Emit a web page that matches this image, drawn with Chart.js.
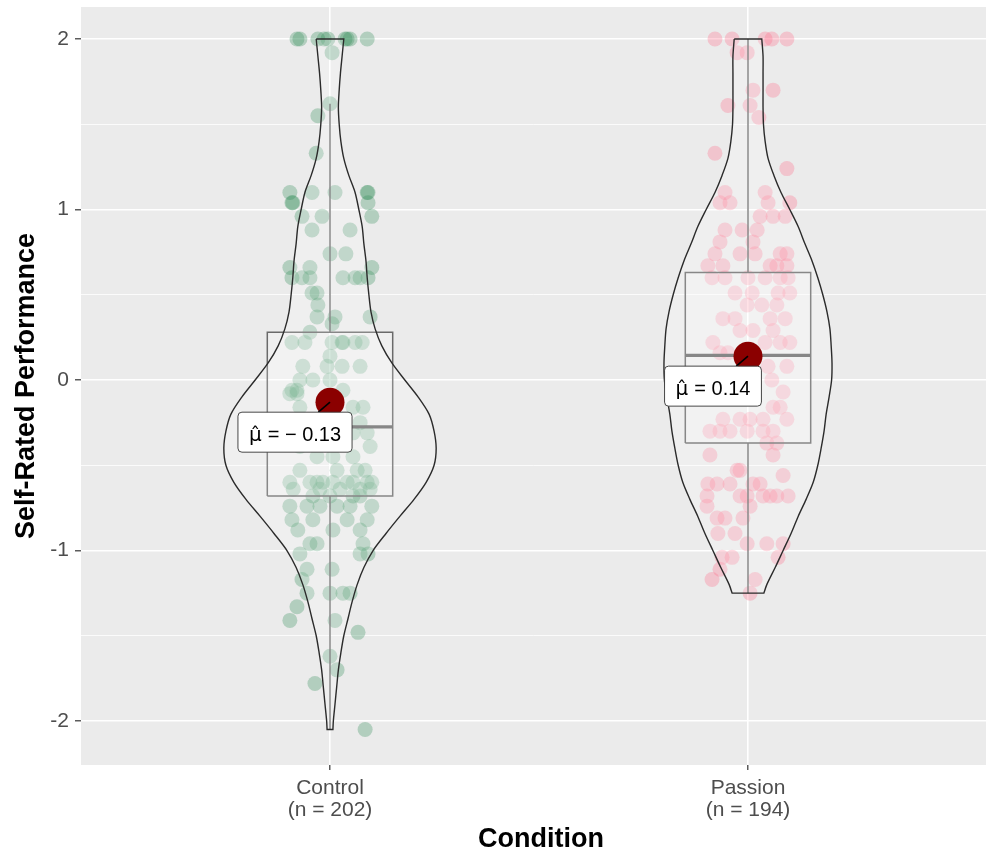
<!DOCTYPE html>
<html><head><meta charset="utf-8">
<script src="https://cdn.jsdelivr.net/npm/chart.js@4"></script>
<style>html,body{margin:0;padding:0;overflow:hidden;background:#ffffff}canvas{display:block}</style>
</head><body>
<canvas id="c" width="986" height="852"></canvas>
<script>
// ---------- data ----------
const categories = ['Control', 'Passion'];
const groupSizes = [202, 194];
const means = [-0.13, 0.14];
const meanValueText = ['= \u2212 0.13', '= 0.14'];
const q1 = [-0.68, -0.37];
const medians = [-0.275, 0.145];
const q3 = [0.28, 0.63];
const whiskerLow = [-2.05, -1.25];
const whiskerHigh = [1.62, 2.0];
const yTicks = [-2, -1, 0, 1, 2];
const yMinorTicks = [-1.5, -0.5, 0.5, 1.5];

const controlY = [
  2,2,2,2,2,2,2,2,2, 1.92, 1.62, 1.55, 1.33,
  1.1,1.1,1.1,1.1,1.1, 1.04,1.04,1.04, 0.96,0.96,0.96, 0.88,0.88, 0.74,0.74,
  0.66,0.66,0.66, 0.6,0.6,0.6,0.6,0.6,0.6,0.6, 0.51,0.51, 0.44, 0.37,0.37,0.37, 0.33, 0.28,
  0.22,0.22,0.22,0.22,0.22,0.22,0.22, 0.14, 0.08,0.08,0.08,0.08, 0,0,0,
  -0.06,-0.06,-0.06, -0.08,-0.08, -0.16,-0.16,-0.16, -0.25,-0.25, -0.31,-0.31, -0.39,-0.39,
  -0.45,-0.45,-0.45, -0.53,-0.53,-0.53,-0.53,
  -0.6,-0.6,-0.6,-0.6,-0.6,-0.6,-0.6,-0.6,-0.6, -0.64,-0.64,-0.64,-0.64,-0.64,
  -0.68,-0.68,-0.68,-0.68, -0.74,-0.74,-0.74,-0.74,-0.74,-0.74, -0.82,-0.82,-0.82,-0.82,
  -0.88,-0.88,-0.88, -0.96,-0.96,-0.96, -1.02,-1.02,-1.02, -1.11,-1.11, -1.17,
  -1.25,-1.25,-1.25,-1.25, -1.33, -1.41,-1.41, -1.48, -1.62, -1.7, -1.78, -2.05
];
const controlJitter = [
  -0.079,-0.072,-0.029,-0.014,-0.005,0.036,0.041,0.048,0.089, 0.005, 0.0, -0.029, -0.033,
  -0.096,-0.043,0.012,0.091,0.089, -0.091,-0.089,0.091, -0.067,-0.019,0.1, -0.043,0.048, 0.0,0.038,
  -0.096,-0.048,0.1, -0.091,-0.067,-0.048,0.031,0.06,0.072,0.091, -0.043,-0.031, -0.029, -0.031,0.012,0.096, 0.005, -0.048,
  -0.091,-0.06,0.005,0.029,0.031,0.06,0.077, 0.0, -0.065,-0.007,0.029,0.072, -0.072,-0.041,0.0,
  -0.091,-0.079,0.031, -0.096,-0.079, -0.072,0.055,0.079, 0.072,-0.07, 0.055,0.089, 0.096,-0.072,
  -0.031,0.007,0.055, -0.072,0.017,0.065,0.084,
  -0.096,-0.048,-0.031,-0.017,0.007,0.041,0.055,0.089,0.1, -0.088,-0.024,0.024,0.072,0.096,
  -0.041,0.0,0.055,0.072, -0.096,-0.055,-0.024,0.017,0.048,0.1, -0.091,-0.041,0.041,0.089,
  -0.077,0.007,0.072, -0.048,-0.031,0.079, -0.072,0.072,0.091, -0.055,0.005, -0.067,
  -0.055,0.0,0.031,0.048, -0.079, -0.096,0.012, 0.067, 0.0, 0.017, -0.036, 0.084
];

const passionY = [
  2,2,2,2,2, 1.92,1.92, 1.7,1.7, 1.61,1.61, 1.54, 1.33, 1.24, 1.1,1.1, 1.04,1.04,1.04,1.04,
  0.96,0.96,0.96, 0.88,0.88,0.88, 0.81,0.81, 0.74,0.74,0.74,0.74,0.74, 0.67,0.67,0.67,0.67,0.67,
  0.6,0.6,0.6,0.6,0.6,0.6, 0.51,0.51,0.51,0.51, 0.44,0.44,0.44, 0.36,0.36,0.36,0.36,
  0.29,0.29,0.29, 0.22,0.22,0.22,0.22, 0.16,0.16, 0.08,0.08, 0, -0.07, -0.16,-0.16,
  -0.23,-0.23,-0.23,-0.23,-0.23, -0.3,-0.3,-0.3,-0.3,-0.3,-0.3, -0.37,-0.37, -0.44,-0.44,
  -0.53,-0.53, -0.56, -0.61,-0.61,-0.61,-0.61,-0.61, -0.68,-0.68,-0.68,-0.68,-0.68,-0.68,-0.68,
  -0.74,-0.74, -0.81,-0.81,-0.81, -0.9,-0.9, -0.96,-0.96,-0.96, -1.04,-1.04,-1.04, -1.11,
  -1.17,-1.17, -1.25
];
const passionJitter = [
  -0.079,-0.038,0.041,0.057,0.093, -0.026,-0.002, 0.012,0.06, -0.048,0.005, 0.026, -0.079, 0.093, -0.055,0.041, -0.067,-0.043,0.048,0.1,
  0.029,0.06,0.089, -0.055,-0.014,0.022, -0.067,0.012, -0.079,-0.019,0.017,0.077,0.093, -0.096,-0.06,0.053,0.069,0.093,
  -0.086,-0.055,0.0,0.041,0.077,0.096, -0.031,0.01,0.072,0.1, -0.002,0.033,0.069, -0.06,-0.031,0.053,0.089,
  -0.019,0.012,0.06, -0.084,0.041,0.077,0.1, -0.067,-0.048, 0.048,0.093, 0.057, 0.084, 0.06,0.077,
  -0.06,-0.019,0.005,0.036,0.093, -0.091,-0.067,-0.043,-0.002,0.036,0.06, 0.045,0.069, -0.091,0.06,
  -0.026,-0.019, 0.084, -0.096,-0.074,-0.043,0.012,0.029, -0.098,-0.019,-0.002,0.036,0.053,0.069,0.096,
  -0.098,0.005, -0.074,-0.055,-0.012, -0.072,-0.031, -0.002,0.045,0.084, -0.062,-0.038,0.072, -0.067,
  -0.086,0.017, 0.005
];

const controlViolinY = [2.0,1.9,1.8,1.7,1.6,1.5,1.4,1.3,1.2,1.1,1.0,0.9,0.8,0.7,0.6,0.5,0.4,0.3,0.2,0.1,0.0,
  -0.1,-0.2,-0.3,-0.4,-0.5,-0.6,-0.7,-0.8,-0.9,-1.0,-1.1,-1.2,-1.3,-1.4,-1.5,-1.6,-1.7,-1.8,-1.9,-2.0,-2.05];
const controlViolinHalfWidth = [0.033,0.029,0.025,0.022,0.020,0.022,0.026,0.033,0.045,0.060,0.069,0.077,0.081,0.086,0.089,0.093,0.098,0.108,0.124,0.148,0.179,
  0.211,0.237,0.249,0.254,0.249,0.230,0.201,0.167,0.134,0.103,0.081,0.065,0.053,0.043,0.033,0.026,0.020,0.016,0.012,0.008,0.007];
const passionViolinY = [2.0,1.9,1.8,1.7,1.6,1.5,1.4,1.3,1.2,1.1,1.0,0.9,0.8,0.7,0.6,0.5,0.4,0.3,0.2,0.1,0.0,
  -0.1,-0.2,-0.3,-0.4,-0.5,-0.6,-0.7,-0.8,-0.9,-1.0,-1.1,-1.2,-1.25];
const passionViolinHalfWidth = [0.033,0.036,0.036,0.036,0.036,0.037,0.041,0.048,0.062,0.079,0.100,0.120,0.136,0.153,0.167,0.179,0.189,0.196,0.199,0.201,0.200,
  0.194,0.187,0.182,0.175,0.167,0.156,0.139,0.120,0.103,0.084,0.065,0.045,0.038];

// ---------- layout / style ----------
const FONT = '"Liberation Sans", Arial, sans-serif';
const boxHalf = 0.15;
const xMin = 0.4043, xMax = 2.5694, panelFullMax = 2.6053;
const yMin = -2.258, yMax = 2.1877;
const pointColors = ['rgba(46,139,87,0.30)', 'rgba(255,105,135,0.30)'];

function violinPolygon(center, ys, hws) {
  const n = ys.length, pts = [];
  pts.push({x: center - hws[0], y: ys[0]});
  pts.push({x: center - hws[0], y: ys[0]});
  for (let i = 0; i < n; i++) {
    pts.push({x: center + hws[i], y: ys[i]});
    if (i === 0 || i === n - 1) pts.push({x: center + hws[i], y: ys[i]});
  }
  for (let i = n - 1; i >= 0; i--) {
    pts.push({x: center - hws[i], y: ys[i]});
    if (i === n - 1) pts.push({x: center - hws[i], y: ys[i]});
  }
  return pts;
}

const datasets = [];
datasets.push({label: 'mean', data: means.map((m, i) => ({x: i + 1, y: m})),
  pointRadius: 14.5, backgroundColor: '#8B0000', borderWidth: 0, order: 0});

const violins = [[controlViolinY, controlViolinHalfWidth], [passionViolinY, passionViolinHalfWidth]];
const pts = [[controlY, controlJitter], [passionY, passionJitter]];
categories.forEach((c, i) => {
  const cx = i + 1;
  datasets.push({label: c + ' violin', data: violinPolygon(cx, violins[i][0], violins[i][1]),
    showLine: true, pointRadius: 0, tension: 0.3, fill: 'shape',
    backgroundColor: 'rgba(255,255,255,0.2)', borderColor: '#2b2b2b', borderWidth: 1.4, order: 10});
  datasets.push({label: c + ' box', data: [
      {x: cx - boxHalf, y: q1[i]}, {x: cx + boxHalf, y: q1[i]}, {x: cx + boxHalf, y: q3[i]},
      {x: cx - boxHalf, y: q3[i]}, {x: cx - boxHalf, y: q1[i]}],
    showLine: true, pointRadius: 0, tension: 0, fill: 'shape',
    backgroundColor: 'rgba(255,255,255,0.2)', borderColor: '#6a6a6a', borderWidth: 1.5, order: 20});
  datasets.push({label: c + ' median', data: [{x: cx - boxHalf, y: medians[i]}, {x: cx + boxHalf, y: medians[i]}],
    showLine: true, pointRadius: 0, borderColor: '#6a6a6a', borderWidth: 3.2, order: 19});
  datasets.push({label: c + ' upper whisker', data: [{x: cx, y: q3[i]}, {x: cx, y: whiskerHigh[i]}],
    showLine: true, pointRadius: 0, borderColor: '#6a6a6a', borderWidth: 1.5, order: 20});
  datasets.push({label: c + ' lower whisker', data: [{x: cx, y: q1[i]}, {x: cx, y: whiskerLow[i]}],
    showLine: true, pointRadius: 0, borderColor: '#6a6a6a', borderWidth: 1.5, order: 20});
  datasets.push({label: c + ' points', data: pts[i][0].map((v, k) => ({x: cx + pts[i][1][k], y: v})),
    pointRadius: 7.5, backgroundColor: pointColors[i], borderWidth: 0, order: 30});
});

const panelBg = {
  id: 'panelBg',
  beforeDraw(chart) {
    const {ctx, chartArea: a} = chart;
    ctx.save(); ctx.fillStyle = '#EBEBEB';
    ctx.fillRect(a.left, a.top, a.right - a.left, a.bottom - a.top);
    ctx.restore();
  }
};

const meanLabelPlugin = {
  id: 'meanLabels',
  afterDatasetsDraw(chart) {
    const {ctx, scales: {x, y}} = chart;
    ctx.save();
    const muFont = '20px "DejaVu Sans", sans-serif';
    const valFont = '20px ' + FONT;
    means.forEach((m, i) => {
      const mx = x.getPixelForValue(i + 1), my = y.getPixelForValue(m);
      const lx = mx - 35, ly = my + 30;
      ctx.font = muFont; const muW = ctx.measureText('\u03BC\u0302').width;
      ctx.font = valFont; const vW = ctx.measureText(meanValueText[i]).width;
      const gap = 6;
      const tw = muW + gap + vW;
      const w = tw + 22, h = 40;
      const dx = lx - mx, dy = ly - my;
      const s = Math.min((w / 2) / Math.abs(dx), (h / 2) / Math.abs(dy));
      ctx.strokeStyle = '#000'; ctx.lineWidth = 1.6;
      ctx.beginPath(); ctx.moveTo(mx, my); ctx.lineTo(lx - s * dx, ly - s * dy); ctx.stroke();
      const L = lx - w / 2, T = ly - h / 2, r = 4;
      ctx.beginPath();
      ctx.moveTo(L + r, T); ctx.lineTo(L + w - r, T); ctx.quadraticCurveTo(L + w, T, L + w, T + r);
      ctx.lineTo(L + w, T + h - r); ctx.quadraticCurveTo(L + w, T + h, L + w - r, T + h);
      ctx.lineTo(L + r, T + h); ctx.quadraticCurveTo(L, T + h, L, T + h - r);
      ctx.lineTo(L, T + r); ctx.quadraticCurveTo(L, T, L + r, T);
      ctx.closePath();
      ctx.fillStyle = '#ffffff'; ctx.fill();
      ctx.strokeStyle = '#333333'; ctx.lineWidth = 0.9; ctx.stroke();
      ctx.fillStyle = '#000000'; ctx.textAlign = 'left'; ctx.textBaseline = 'alphabetic';
      const base = ly + 9;
      const startX = lx - tw / 2;
      ctx.font = muFont; ctx.fillText('\u03BC\u0302', startX, base);
      ctx.font = valFont; ctx.fillText(meanValueText[i], startX + muW + gap, base);
    });
    ctx.restore();
  },
  afterDraw(chart) {
    // x-axis title centred on the full panel (panel continues past the right edge of the picture)
    const {ctx, scales: {x}} = chart;
    ctx.save();
    ctx.font = 'bold 27px ' + FONT;
    ctx.fillStyle = '#000000'; ctx.textAlign = 'center'; ctx.textBaseline = 'middle';
    const cxp = (x.getPixelForValue(xMin) + x.getPixelForValue(panelFullMax)) / 2;
    ctx.fillText('Condition', cxp, 840);
    ctx.restore();
  }
};

new Chart(document.getElementById('c'), {
  type: 'scatter',
  data: {datasets},
  options: {
    responsive: false, animation: false, events: [],
    layout: {autoPadding: false, padding: {top: 7, left: 0, right: 0, bottom: 0}},
    plugins: {legend: {display: false}, tooltip: {enabled: false}},
    scales: {
      x: {
        type: 'linear', min: xMin, max: xMax,
        afterBuildTicks: s => { s.ticks = categories.map((c, i) => ({value: i + 1})); },
        afterFit: s => { s.height = 87; s.paddingLeft = 0; s.paddingRight = 0; },
        grid: {color: '#ffffff', lineWidth: 1.6, tickColor: '#333333', tickLength: 5, tickWidth: 1.2},
        border: {display: false},
        ticks: {
          callback: v => { const i = Math.round(v) - 1; return [categories[i], '(n = ' + groupSizes[i] + ')']; },
          color: '#4D4D4D', font: {family: FONT, size: 21, lineHeight: 1.05}, padding: 7,
          maxRotation: 0, autoSkip: false
        },
        title: {display: false}
      },
      y: {
        type: 'linear', min: yMin, max: yMax,
        afterBuildTicks: s => { s.ticks = yMinorTicks.concat(yTicks).sort((a, b) => a - b).map(v => ({value: v})); },
        afterFit: s => { s.width = 81; s.paddingTop = 0; s.paddingBottom = 0; },
        grid: {
          color: '#ffffff',
          lineWidth: c => yTicks.includes(c.tick.value) ? 1.6 : 0.8,
          tickColor: c => yTicks.includes(c.tick.value) ? '#333333' : 'rgba(0,0,0,0)',
          tickLength: 6, tickWidth: 1.2
        },
        border: {display: false},
        ticks: {
          callback: v => yTicks.includes(v) ? String(v) : '',
          color: '#4D4D4D', font: {family: FONT, size: 21}, padding: 6
        },
        title: {display: true, text: 'Self-Rated Performance', color: '#000000',
          font: {family: FONT, size: 27, weight: 'bold', lineHeight: 1}, padding: {top: 13, bottom: 0}}
      }
    }
  },
  plugins: [panelBg, meanLabelPlugin]
});
</script>
</body></html>
